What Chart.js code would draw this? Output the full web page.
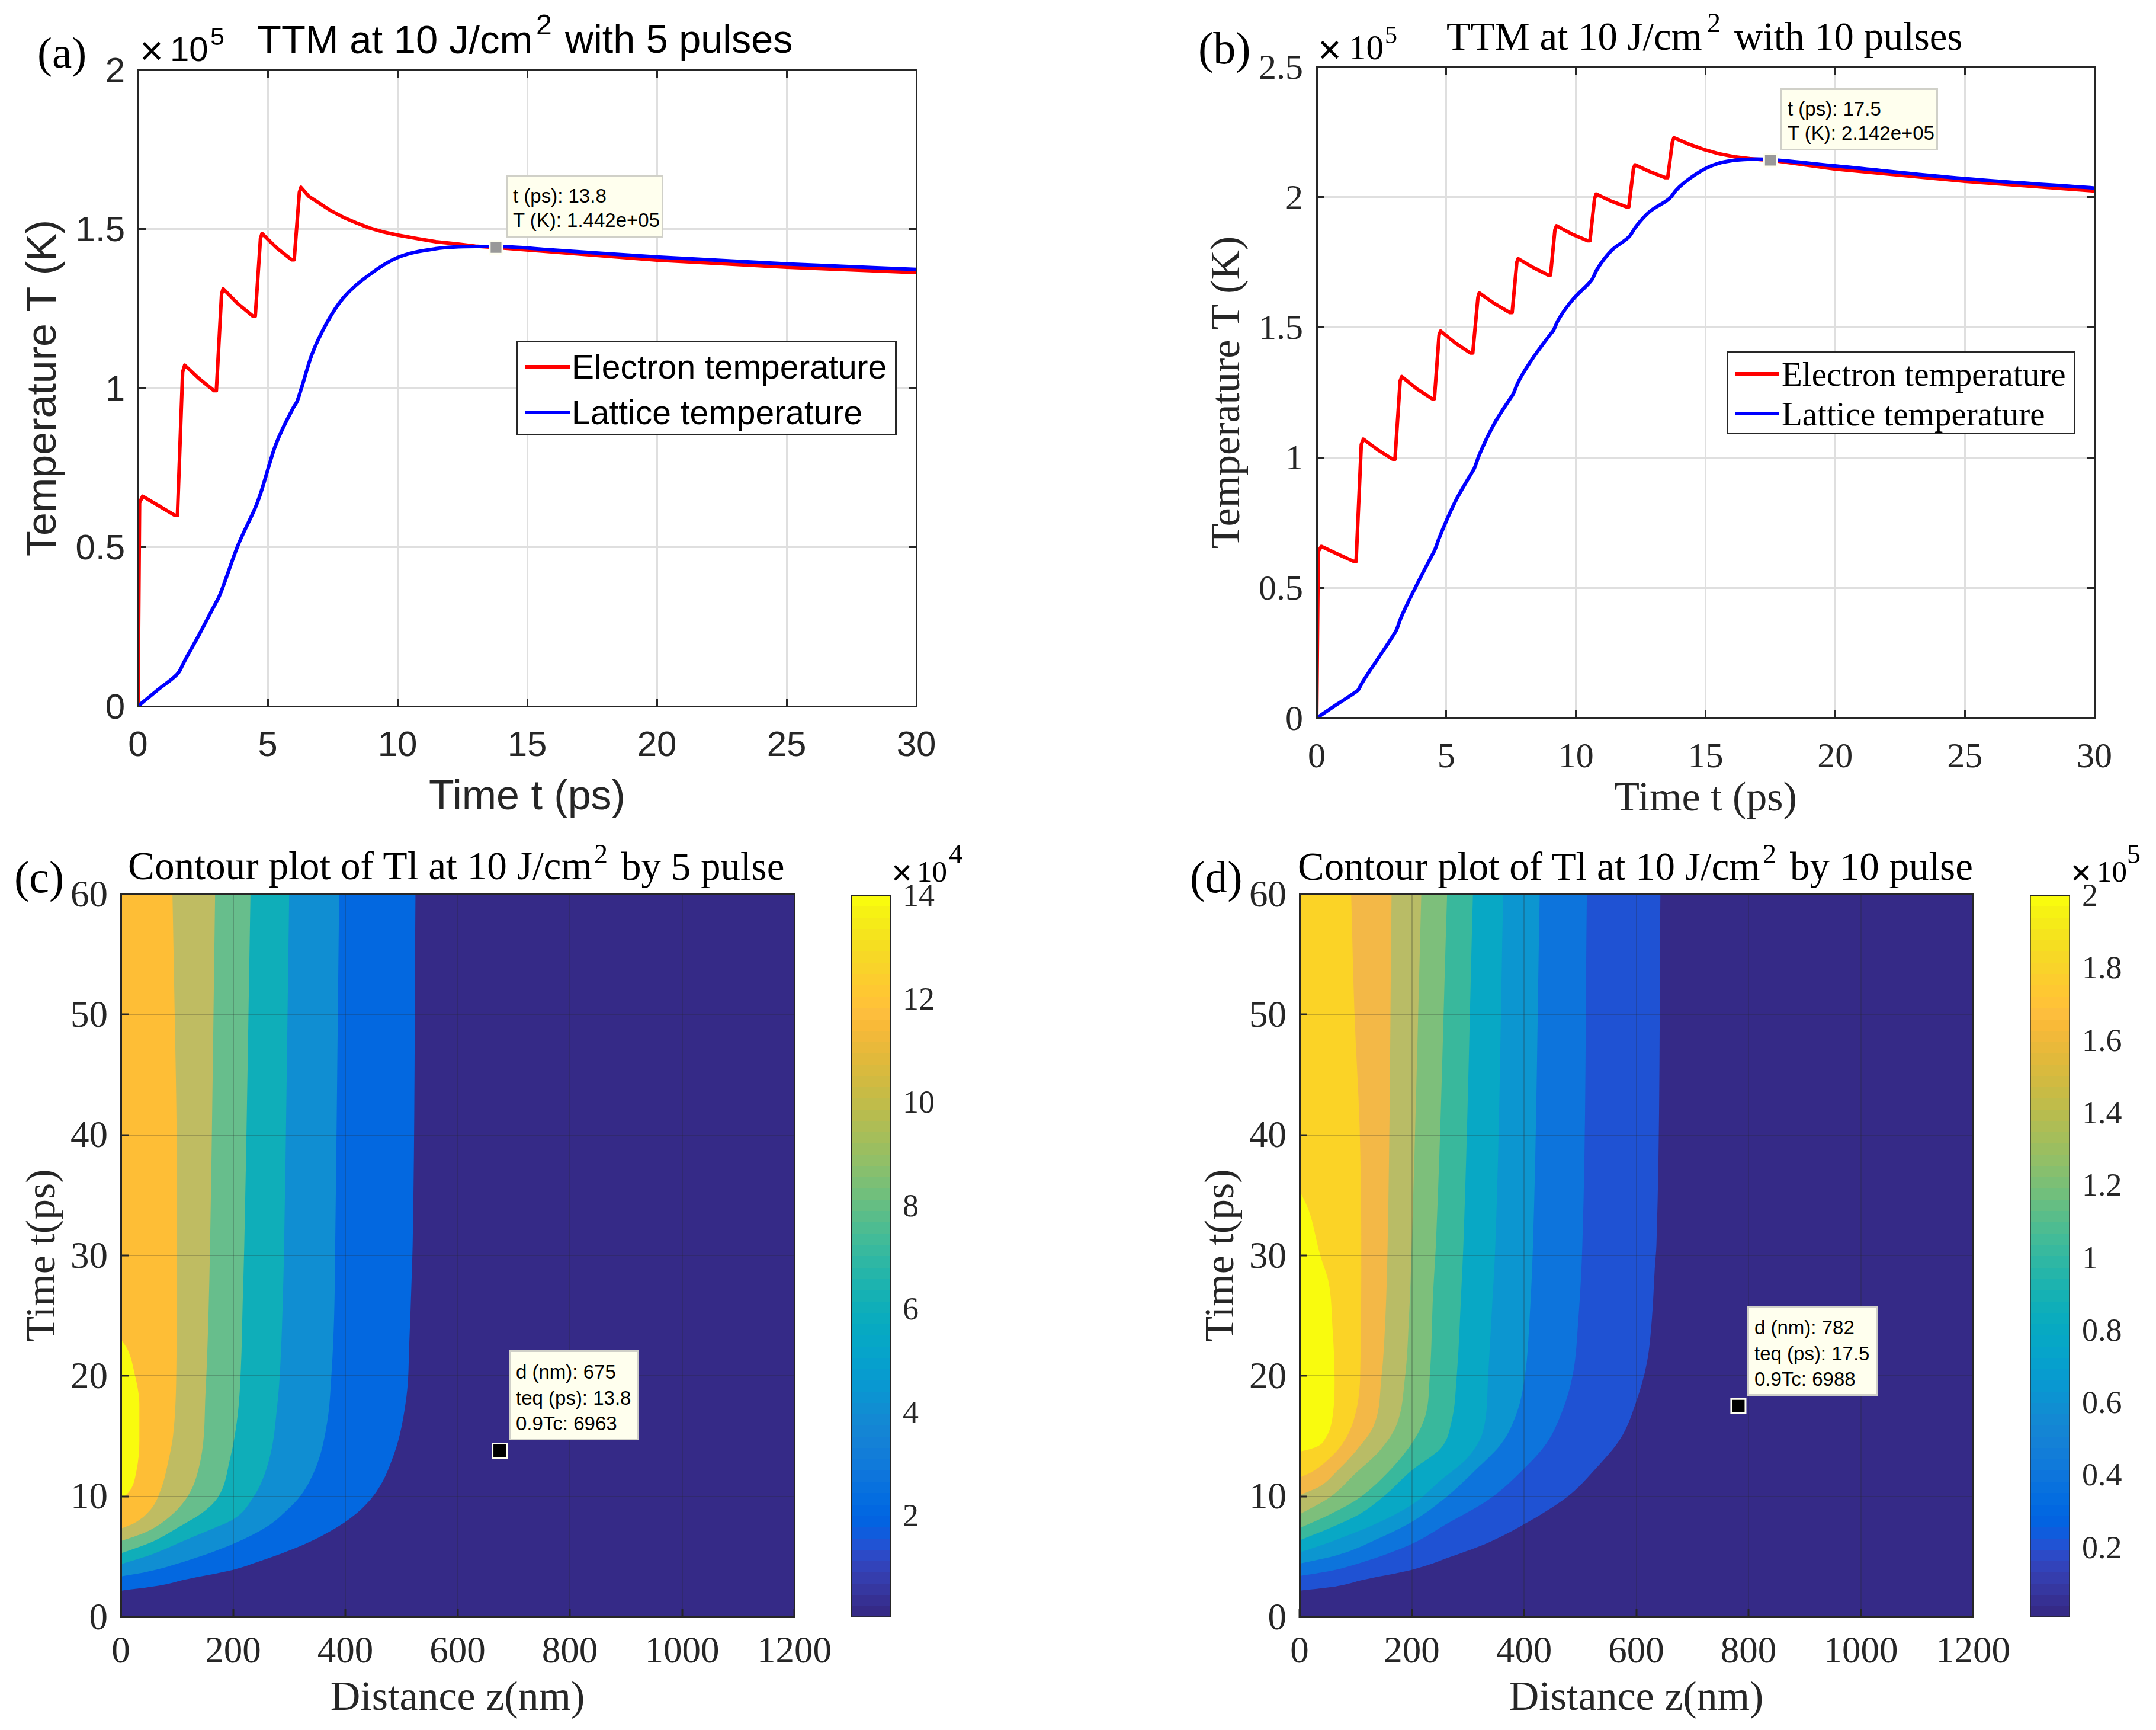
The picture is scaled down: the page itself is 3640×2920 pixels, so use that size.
<!DOCTYPE html>
<html lang="en">
<head>
<meta charset="UTF-8">
<title>TTM temperature and contour plots</title>
<script src="https://cdn.jsdelivr.net/npm/chart.js"></script>
<style>
  html, body { margin: 0; padding: 0; background: #fff; }
  body { width: 3640px; height: 2920px; position: relative; overflow: hidden; }
  canvas { position: absolute; }
  .txt { position: absolute; line-height: 1; white-space: pre; color: #000; }
  .legend { position: absolute; background: #fff; border: 3px solid #262626; box-sizing: border-box; }
  .legend div { position: absolute; white-space: pre; line-height: 1; color: #000; }
  .legend i { position: absolute; height: 6px; display: block; }
  .tip { position: absolute; background: #FFFFEE; border: 3px solid #d0d0c8; box-sizing: border-box; color: #000; white-space: pre; font-family: "Liberation Sans"; }
</style>
</head>
<body>
<canvas id="chartA"></canvas>
<canvas id="chartB"></canvas>
<canvas id="chartC"></canvas>
<canvas id="chartD"></canvas>
<canvas id="barC"></canvas>
<canvas id="barD"></canvas>
<script>
// panel (a): [t ps, T in 1e5 K]
const electronA = [[0,0],[0.06,0.64],[0.18,0.66],[0.8,0.63],[1.42,0.6],[1.52,0.6],[1.72,1.05],[1.8,1.072],[2.35,1.03],[2.93,0.992],[3.02,0.992],[3.22,1.295],[3.28,1.312],[3.85,1.265],[4.43,1.226],[4.52,1.226],[4.72,1.47],[4.78,1.486],[5.35,1.44],[5.93,1.403],[6.02,1.403],[6.22,1.615],[6.28,1.631],[6.58,1.603],[6.99,1.581],[7.4,1.559],[7.91,1.537],[8.42,1.519],[8.93,1.503],[9.44,1.491],[10,1.481],[10.75,1.47],[11.48,1.46],[12.3,1.453],[13,1.446],[13.8,1.442],[16,1.428],[20,1.402],[25,1.38],[30,1.363]];
const latticeA = [[0,0],[0.8,0.054],[1.5,0.1],[1.6,0.11],[1.75,0.135],[2.35,0.224],[3.0,0.325],[3.1,0.34],[3.25,0.37],[3.85,0.505],[4.5,0.62],[4.6,0.64],[4.75,0.675],[5.3,0.82],[6.0,0.94],[6.13,0.958],[6.3,1.0],[6.69,1.103],[7.3,1.208],[7.91,1.283],[8.93,1.357],[10,1.41],[11.48,1.438],[13,1.445],[13.8,1.445],[16,1.434],[20,1.412],[25,1.39],[30,1.373]];
const markerA = [[13.8,1.442]];

// panel (b)
const electronB = [[0,0],[0.06,0.64],[0.18,0.659],[0.8,0.63],[1.42,0.602],[1.52,0.602],[1.72,1.05],[1.8,1.071],[2.35,1.03],[2.93,0.994],[3.02,0.994],[3.22,1.295],[3.28,1.311],[3.85,1.265],[4.45,1.226],[4.54,1.226],[4.72,1.47],[4.78,1.486],[5.35,1.44],[5.93,1.402],[6.02,1.402],[6.22,1.615],[6.27,1.632],[6.85,1.592],[7.45,1.557],[7.54,1.557],[7.72,1.75],[7.77,1.764],[8.35,1.73],[8.93,1.701],[9.02,1.701],[9.19,1.875],[9.25,1.89],[9.85,1.858],[10.45,1.833],[10.54,1.833],[10.72,1.995],[10.78,2.012],[11.35,1.985],[11.95,1.963],[12.04,1.963],[12.22,2.11],[12.28,2.124],[12.85,2.098],[13.45,2.075],[13.54,2.075],[13.72,2.212],[13.78,2.228],[14.35,2.204],[14.94,2.183],[15.5,2.167],[16.17,2.154],[16.7,2.148],[17.15,2.144],[17.5,2.142],[20,2.108],[25,2.061],[30,2.024]];
const latticeB = [[0,0],[0.8,0.054],[1.5,0.1],[1.6,0.108],[1.75,0.135],[2.39,0.232],[3.0,0.325],[3.08,0.339],[3.25,0.385],[3.81,0.502],[4.45,0.625],[4.55,0.644],[4.72,0.69],[5.34,0.83],[6.0,0.945],[6.08,0.959],[6.25,1.005],[6.82,1.125],[7.5,1.232],[7.58,1.244],[7.75,1.285],[8.29,1.375],[9.05,1.478],[9.13,1.488],[9.3,1.525],[9.82,1.6],[10.55,1.675],[10.63,1.685],[10.8,1.72],[11.37,1.795],[12.02,1.845],[12.1,1.854],[12.3,1.885],[12.85,1.945],[13.55,1.99],[13.66,2.0],[13.85,2.025],[14.17,2.055],[15,2.11],[15.5,2.13],[16,2.14],[17,2.146],[17.5,2.144],[20,2.12],[25,2.071],[30,2.035]];
const markerB = [[17.5,2.142]];

// panel (c) contour levels, outermost first: [t ps, z nm]
const levelC1 = [[2.17,0],[2.58,67],[3.09,114],[3.9,200],[4.51,241],[6.0,326],[7.88,400],[9.92,448],[13.4,486],[18.3,509],[22.76,514],[27.86,518],[30.9,520],[60,525]];
const levelC2 = [[3.35,0],[3.7,43],[4.6,114],[6.05,200],[7.47,260],[8.9,297],[10.1,321],[12.57,349],[16.24,368],[19.9,375],[24.8,380],[30.9,382],[60,389]];
const levelC3 = [[4.37,0],[5.13,52],[6.35,114],[7.27,161],[8.08,200],[9.92,236],[13,264],[17.67,279],[20.7,284],[26.84,289],[30.92,291],[60,300]];
const levelC4 = [[5.27,0],[6.25,57],[7.47,104],[8.7,147],[9.92,173],[13,194],[16.65,208],[20.7,214],[25.8,217],[30.9,220],[60,231]];
const levelC5 = [[6.29,0],[7,43],[8.08,81],[9.92,118],[13,142],[18.7,151],[24.8,156],[30.9,159],[60,168]];
const levelC6 = [[7.31,0],[7.78,24],[8.9,53],[10.53,71],[13,85],[15,93],[20.7,99],[30.9,100],[40,99.5],[50,96],[60,92]];
const levelC7 = [[9.7,0],[10.53,17],[12.16,28],[14.6,33],[17.67,33],[20.3,24],[22.15,12.5],[23.07,0]];
const markerC = [[13.8,675]];

// panel (d)
const levelD1 = [[2.17,0],[2.48,58.6],[3.09,115],[3.9,200],[5,270.5],[6.15,336],[7.68,400],[10,478],[12.16,525],[14.8,572],[17.87,600],[21.1,619],[24.8,628],[28.9,633],[30.9,636],[60,643]];
const levelD2 = [[3.39,0],[3.8,54],[4.5,110],[6.05,200],[7.68,261],[9.7,336],[12.3,400],[14.4,440],[17.05,468],[20.1,487],[24.8,497],[30.9,504],[60,512]];
const levelD3 = [[4.41,0],[5.13,68],[6.55,143],[7.88,200],[9.92,261],[12.16,313],[14.4,360],[17.05,388],[20.1,402],[24.8,410],[30.9,416],[60,428]];
const levelD4 = [[5.33,0],[6.35,63],[7.68,134],[9.3,200],[11.35,252],[13.18,299],[15.4,327],[19.9,336],[24.8,342],[30.9,349],[60,363]];
const levelD5 = [[6.35,0],[7.37,54],[8.5,106],[9.92,148],[12.16,200],[14,252],[16.24,271],[19.9,280],[26.84,288],[30.9,292],[60,309]];
const levelD6 = [[7.37,0],[8.5,54],[9.7,101],[11.55,148],[14.4,200],[16.65,224],[19.9,232],[26.84,238],[30.9,243],[60,263]];
const levelD7 = [[8.5,0],[9.92,54],[11.96,101],[13.8,143],[15.83,172],[19.9,188],[24.8,195],[30.9,200],[60,217]];
const levelD8 = [[10.1,0],[10.8,35],[12.16,68],[13.8,101],[15.83,132],[19.9,146],[24.8,153],[30.9,157],[60,164]];
const levelD9 = [[11.55,0],[12,21],[13.18,54],[14.4,77],[16.24,96],[19.9,108],[30.9,110],[40.8,107],[50,98],[60,92]];
const levelD10 = [[13.69,0],[14.1,30],[14.9,47],[16.65,59],[19.9,62.5],[23.8,59],[27.86,51.5],[30,37],[33.8,16],[35.4,0]];
const markerD = [[17.5,782]];

// tick labels / ranges
const lineTimeRange = [0, 30];
const rangeYA = [0, 2];
const rangeYB = [0, 2.5];
const rangeBarC = [0.03, 14];
const rangeBarD = [0.006, 2];
const legendNames = ['Electron temperature', 'Lattice temperature'];

const colorsC = ['#352A87','#0368E0','#108ED2','#0FAEB9','#67BE8C','#BFBC62','#FEBE36','#F9FB0E'];
const colorsD = ['#352A87','#1F52D3','#0D74DC','#0C96D0','#08A8C5','#39B89C','#7DBF7B','#B9BC66','#F3B847','#FBD326','#F9FB0E'];
const parula = ['#352A87','#363093','#3637A0','#353DAD','#3243BA','#2C4AC7','#2053D4','#0F5CDD','#0363E1','#0268E1','#046DE0','#0871DE','#0D75DC','#107ADA','#127DD8','#1481D6','#1485D4','#1389D3','#108ED2','#0C93D2','#0998D1','#079CCF','#06A0CD','#06A4CA','#06A7C6','#07A9C2','#0AACBE','#0FAEB9','#15B1B4','#1DB3AF','#25B5A9','#2EB7A4','#38B99E','#42BB98','#4DBC91','#59BD8A','#65BE83','#71BF7C','#7CBF75','#87BF6E','#92BF67','#9BBE60','#A5BE5A','#AEBD55','#B7BC4F','#C0BC4A','#C8BB45','#D1BA41','#D9BA3E','#E1B93B','#E9B93A','#F1B93A','#F9BA38','#FDBE3D','#FFC337','#FEC832','#FCCD2E','#F9D32A','#F7D826','#F5DE21','#F5E41D','#F5EB18','#F6F213','#F9FB0E'];

const SANS = '"Liberation Sans"';
const SERIF = '"Liberation Serif"';
const DARK = '#262626';
const TICK = 13;

Chart.defaults.animation = false;
Chart.defaults.devicePixelRatio = 1;

function placeCanvas(id, left, top, width, height) {
  const c = document.getElementById(id);
  c.width = width; c.height = height;
  c.style.left = left + 'px'; c.style.top = top + 'px';
  c.style.width = width + 'px'; c.style.height = height + 'px';
  return c;
}

function numLabel(v) { return String(Math.round(v * 10) / 10); }

// fixed frame: the plot area lands on plot = {l,r,t,b}
function axesOptions(cv, plot, cfg) {
  const axH = 180;
  const yW = plot.l - cv.left;
  const gridOn = {
    color: cfg.gridColor, lineWidth: cfg.gridWidth, z: cfg.gridZ,
    tickColor: DARK, tickWidth: 3, tickLength: -TICK
  };
  const boxAxis = (pos, range, step) => ({
    type: 'linear', position: pos, min: range[0], max: range[1],
    ticks: { display: false, stepSize: step },
    grid: { drawOnChartArea: false, tickColor: DARK, tickWidth: 3, tickLength: -TICK },
    border: { color: DARK, width: 3, z: 2 },
    afterFit: s => { if (pos === 'top') s.height = 0; else s.width = 0; }
  });
  return {
    responsive: false,
    maintainAspectRatio: false,
    indexAxis: cfg.indexAxis || 'x',
    layout: { padding: { left: 0, top: plot.t - cv.top, right: cv.left + cv.width - plot.r, bottom: cv.top + cv.height - plot.b - axH } },
    plugins: { legend: { display: false }, tooltip: { enabled: false } },
    scales: {
      x: {
        type: 'linear', min: cfg.xRange[0], max: cfg.xRange[1],
        ticks: { stepSize: cfg.xStep, autoSkip: false, maxRotation: 0, padding: cfg.xTickPad, color: DARK, font: { family: cfg.family, size: cfg.tickSize }, callback: numLabel },
        grid: gridOn,
        border: { color: DARK, width: 3, z: 2 },
        title: { display: true, text: cfg.xTitle, color: DARK, font: { family: cfg.family, size: cfg.titleSize }, padding: { top: 0, bottom: plot.b + axH - cfg.xTitleMid - cfg.titleSize * 0.6 } },
        afterFit: s => { s.height = axH; }
      },
      y: {
        type: 'linear', min: cfg.yRange[0], max: cfg.yRange[1],
        ticks: { stepSize: cfg.yStep, autoSkip: false, padding: cfg.yTickPad, labelOffset: 4, color: DARK, font: { family: cfg.family, size: cfg.tickSize }, callback: numLabel },
        grid: gridOn,
        border: { color: DARK, width: 3, z: 2 },
        title: { display: true, text: cfg.yTitle, color: DARK, font: { family: cfg.family, size: cfg.titleSize }, padding: { top: cfg.yTitleMid - cv.left - cfg.titleSize * 0.6, bottom: 0 } },
        afterFit: s => { s.width = yW; }
      },
      x2: boxAxis('top', cfg.xRange, cfg.xStep),
      y2: boxAxis('right', cfg.yRange, cfg.yStep)
    }
  };
}

function pairs(list) { return list.map(p => ({ x: p[0], y: p[1] })); }
function pairsYX(list) { return list.map(p => ({ x: p[1], y: p[0] })); }

function markerSet(data, fillColor, edge, radius) {
  return { label: 'marker', data: data, showLine: false, pointStyle: 'rect', pointRadius: radius, pointBackgroundColor: fillColor, pointBorderColor: edge, pointBorderWidth: 3, clip: false };
}

function lineChart(id, cv, plot, cfg, electron, lattice, marker) {
  placeCanvas(id, cv.left, cv.top, cv.width, cv.height);
  new Chart(document.getElementById(id), {
    type: 'line',
    data: {
      datasets: [
        markerSet(pairs(marker), '#999999', '#FFFFF0', 15),
        { label: legendNames[1], data: pairs(lattice), borderColor: '#0000FF', borderWidth: 6, pointRadius: 0, borderJoinStyle: 'round', cubicInterpolationMode: 'monotone' },
        { label: legendNames[0], data: pairs(electron), borderColor: '#FF0000', borderWidth: 6, pointRadius: 0, borderJoinStyle: 'round' }
      ]
    },
    options: axesOptions(cv, plot, cfg)
  });
}

function contourChart(id, cv, plot, cfg, levels, colors, marker) {
  placeCanvas(id, cv.left, cv.top, cv.width, cv.height);
  const sets = [markerSet(pairsYX(marker), '#000000', '#FFFFF0', 17)];
  // innermost level is drawn last, so it goes first in the list
  for (let i = levels.length - 1; i >= 0; i--) {
    sets.push({ label: 'level ' + (i + 1), data: pairsYX(levels[i]), backgroundColor: colors[i + 1], borderWidth: 0, pointRadius: 0, fill: 'origin', cubicInterpolationMode: 'monotone' });
  }
  sets.push({ label: 'base', data: [{ x: cfg.xRange[1], y: cfg.yRange[0] }, { x: cfg.xRange[1], y: cfg.yRange[1] }], backgroundColor: colors[0], borderWidth: 0, pointRadius: 0, fill: 'origin' });
  cfg.indexAxis = 'y';
  new Chart(document.getElementById(id), { type: 'line', data: { datasets: sets }, options: axesOptions(cv, plot, cfg) });
}

function colorbar(id, cv, plot, range, step, cfg) {
  placeCanvas(id, cv.left, cv.top, cv.width, cv.height);
  new Chart(document.getElementById(id), {
    type: 'bar',
    data: {
      labels: ['T'],
      datasets: [{
        data: [range],
        barPercentage: 1, categoryPercentage: 1,
        borderColor: DARK, borderWidth: 2, borderSkipped: false,
        backgroundColor: c => {
          const y = c.chart.scales.y;
          if (!y || !isFinite(y.bottom) || !isFinite(y.top)) return parula[0];
          const g = c.chart.ctx.createLinearGradient(0, y.bottom, 0, y.top);
          parula.forEach((col, i) => { g.addColorStop(i / parula.length, col); g.addColorStop((i + 1) / parula.length, col); });
          return g;
        }
      }]
    },
    options: {
      responsive: false, maintainAspectRatio: false,
      layout: { padding: { left: plot.l - cv.left, top: plot.t - cv.top, right: cv.left + cv.width - plot.r - 120, bottom: cv.top + cv.height - plot.b } },
      plugins: { legend: { display: false }, tooltip: { enabled: false } },
      scales: {
        x: { display: false },
        y: {
          position: 'right', type: 'linear', min: range[0], max: range[1],
          ticks: { stepSize: step, includeBounds: false, autoSkip: false, padding: cfg.pad, labelOffset: 4, color: DARK, font: { family: SERIF, size: cfg.size }, callback: numLabel },
          grid: { drawOnChartArea: false, tickColor: DARK, tickWidth: 3, tickLength: -TICK },
          border: { display: false },
          afterFit: s => { s.width = 120; }
        }
      }
    }
  });
}

// real DOM text for titles with superscripts, panel letters and multipliers
function putText(text, x, baseline, size, family) {
  const d = document.createElement('div');
  d.className = 'txt';
  d.textContent = text;
  d.style.left = x + 'px';
  d.style.top = (baseline - 0.84 * size) + 'px';
  d.style.fontSize = size + 'px';
  d.style.fontFamily = family;
  document.body.appendChild(d);
}

function putLegend(left, top, width, height, family, size, textX, swX, swW, rows) {
  const box = document.createElement('div');
  box.className = 'legend';
  box.style.cssText = `left:${left}px;top:${top}px;width:${width}px;height:${height}px;`;
  const cols = ['#FF0000', '#0000FF'];
  legendNames.forEach((name, i) => {
    const sw = document.createElement('i');
    sw.style.cssText = `left:${swX}px;width:${swW}px;top:${rows[i] - 3}px;background:${cols[i]};`;
    box.appendChild(sw);
    const t = document.createElement('div');
    t.textContent = name;
    t.style.cssText = `left:${textX}px;top:${rows[i] - size * 0.5}px;font-family:${family};font-size:${size}px;`;
    box.appendChild(t);
  });
  document.body.appendChild(box);
}

function putTip(lines, left, top, width, height, size, lineH, padTop, padLeft) {
  const d = document.createElement('div');
  d.className = 'tip';
  d.textContent = lines.join('\n');
  d.style.cssText = `left:${left}px;top:${top}px;width:${width}px;height:${height}px;font-size:${size}px;line-height:${lineH}px;padding:${padTop}px 0 0 ${padLeft}px;`;
  document.body.appendChild(d);
}

lineChart('chartA', { left: 0, top: 0, width: 1800, height: 1420 }, { l: 233, r: 1547, t: 118, b: 1192 }, {
  family: SANS, tickSize: 60, titleSize: 70, gridColor: '#DFDFDF', gridWidth: 3, gridZ: -1,
  xRange: lineTimeRange, xStep: 5, yRange: rangeYA, yStep: 0.5, xTickPad: 44, yTickPad: 35,
  xTitle: 'Time t (ps)', yTitle: 'Temperature T (K)', xTitleMid: 1347, yTitleMid: 75
}, electronA, latticeA, markerA);

lineChart('chartB', { left: 2000, top: 0, width: 1640, height: 1420 }, { l: 2223, r: 3536, t: 113, b: 1212 }, {
  family: SERIF, tickSize: 60, titleSize: 70, gridColor: '#DFDFDF', gridWidth: 3, gridZ: -1,
  xRange: lineTimeRange, xStep: 5, yRange: rangeYB, yStep: 0.5, xTickPad: 44, yTickPad: 36,
  xTitle: 'Time t (ps)', yTitle: 'Temperature T (K)', xTitleMid: 1350, yTitleMid: 2074
}, electronB, latticeB, markerB);

const contourBase = {
  family: SERIF, tickSize: 63, titleSize: 70, gridColor: 'rgba(38,38,38,0.25)', gridWidth: 2, gridZ: 1,
  xRange: [0, 1200], xStep: 200, yRange: [0, 60], yStep: 10, xTickPad: 36, yTickPad: 35,
  xTitle: 'Distance z(nm)', yTitle: 'Time t(ps)', xTitleMid: 2868
};

contourChart('chartC', { left: 0, top: 1430, width: 1520, height: 1490 }, { l: 204, r: 1341, t: 1509, b: 2729 },
  Object.assign({}, contourBase, { yTitleMid: 74 }),
  [levelC1, levelC2, levelC3, levelC4, levelC5, levelC6, levelC7], colorsC, markerC);

contourChart('chartD', { left: 2000, top: 1430, width: 1500, height: 1490 }, { l: 2194, r: 3331, t: 1509, b: 2729 },
  Object.assign({}, contourBase, { yTitleMid: 2064 }),
  [levelD1, levelD2, levelD3, levelD4, levelD5, levelD6, levelD7, levelD8, levelD9, levelD10], colorsD, markerD);

colorbar('barC', { left: 1420, top: 1350, width: 220, height: 1540 }, { l: 1437, r: 1504, t: 1511, b: 2730 }, rangeBarC, 2, { pad: 33, size: 54 });
colorbar('barD', { left: 3410, top: 1350, width: 230, height: 1540 }, { l: 3427, r: 3495, t: 1511, b: 2730 }, rangeBarD, 0.2, { pad: 33, size: 54 });

// titles
putText('TTM at 10 J/cm', 434, 89, 67, SANS);
putText('2', 905, 58, 48, SANS);
putText('with 5 pulses', 954, 89, 66.5, SANS);
putText('TTM at 10 J/cm', 2442, 85, 66.7, SERIF);
putText('2', 2882, 55, 46, SERIF);
putText('with 10 pulses', 2928, 85, 66.7, SERIF);
putText('Contour plot of Tl at 10 J/cm', 216, 1485, 67.3, SERIF);
putText('2', 1003, 1458, 46, SERIF);
putText('by 5 pulse', 1049, 1485, 67, SERIF);
putText('Contour plot of Tl at 10 J/cm', 2191, 1485, 67, SERIF);
putText('2', 2976, 1458, 46, SERIF);
putText('by 10 pulse', 3022, 1485, 67, SERIF);
// panel letters
putText('(a)', 63, 114, 75, SERIF);
putText('(b)', 2023, 107, 76, SERIF);
putText('(c)', 24, 1506, 76, SERIF);
putText('(d)', 2009, 1506, 76, SERIF);
// multipliers
putText('\u00D7', 236, 108, 68, SANS);
putText('10', 287, 103, 58, SANS);
putText('5', 355, 76, 43, SANS);
putText('\u00D7', 2225, 106, 68, SANS);
putText('10', 2277, 101, 59, SERIF);
putText('5', 2338, 73, 42, SERIF);
putText('\u00D7', 1505, 1493, 60, SANS);
putText('10', 1548, 1489, 51, SERIF);
putText('4', 1602, 1458, 46, SERIF);
putText('\u00D7', 3496, 1493, 60, SANS);
putText('10', 3540, 1489, 51, SERIF);
putText('5', 3591, 1458, 46, SERIF);

putLegend(872, 575, 642, 160, SANS, 57, 90, 11, 76, [41, 118]);
putLegend(2915, 592, 589, 141, SERIF, 57, 90, 11, 75, [36, 103]);

putTip(['t (ps): 13.8', 'T (K): 1.442e+05'], 854, 296, 266, 105, 33, 41, 11, 9);
putTip(['t (ps): 17.5', 'T (K): 2.142e+05'], 3006, 149, 266, 105, 33, 41, 11, 9);
putTip(['d (nm): 675', 'teq (ps): 13.8', '0.9Tc: 6963'], 859, 2279, 220, 152, 33, 43.5, 12, 9);
putTip(['d (nm): 782', 'teq (ps): 17.5', '0.9Tc: 6988'], 2950, 2204, 220, 152, 33, 43.5, 12, 9);
</script>
</body>
</html>
